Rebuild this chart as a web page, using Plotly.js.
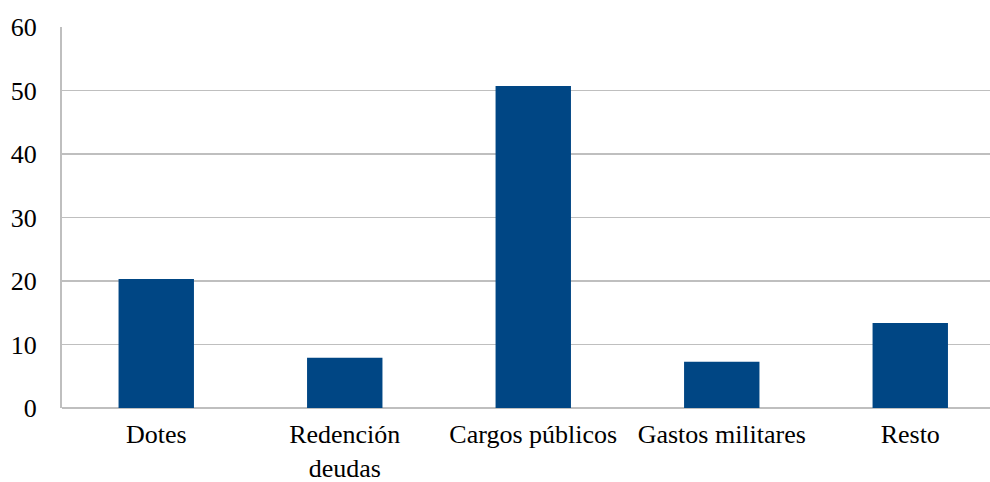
<!DOCTYPE html>
<html><head><meta charset="utf-8">
<script src="https://cdn.plot.ly/plotly-3.0.1.min.js"></script>
<style>body{margin:0;background:#fff}#c{width:990px;height:482px}</style>
</head><body><div id="c"></div>
<script>
const categories = ["Dotes", "Redención<br>deudas", "Cargos públicos", "Gastos militares", "Resto"];
const values = [20.3, 7.9, 50.7, 7.3, 13.4];
const yTicks = [0, 10, 20, 30, 40, 50, 60];
const serif = 'Liberation Serif';

Plotly.newPlot('c', [{
  type: 'bar', x: categories, y: values,
  marker: {color: '#004684', line: {width: 0}},
  hoverinfo: 'none'
}], {
  width: 990, height: 482,
  margin: {l: 62, r: 0, t: 27, b: 73.5},
  paper_bgcolor: '#fff', plot_bgcolor: '#fff',
  bargap: 0.6,
  showlegend: false,
  font: {family: serif, size: 26, color: '#000'},
  xaxis: {
    range: [-0.5, 4.423],
    showgrid: false, showline: false, zeroline: false,
    ticks: '', tickfont: {family: serif, size: 26, color: '#000'}, ticklabelstandoff: 8,
    fixedrange: true
  },
  yaxis: {
    range: [0, 60], tickvals: yTicks, ticktext: yTicks.map(String),
    showgrid: true, gridcolor: '#bfbfbf', gridwidth: 1.5,
    showline: true, linecolor: '#bfbfbf', linewidth: 2,
    zeroline: true, zerolinecolor: '#bfbfbf', zerolinewidth: 2,
    ticks: '', tickfont: {family: serif, size: 26, color: '#000'}, ticklabelstandoff: 18,
    fixedrange: true
  }
}, {displayModeBar: false, staticPlot: true});
</script></body></html>
